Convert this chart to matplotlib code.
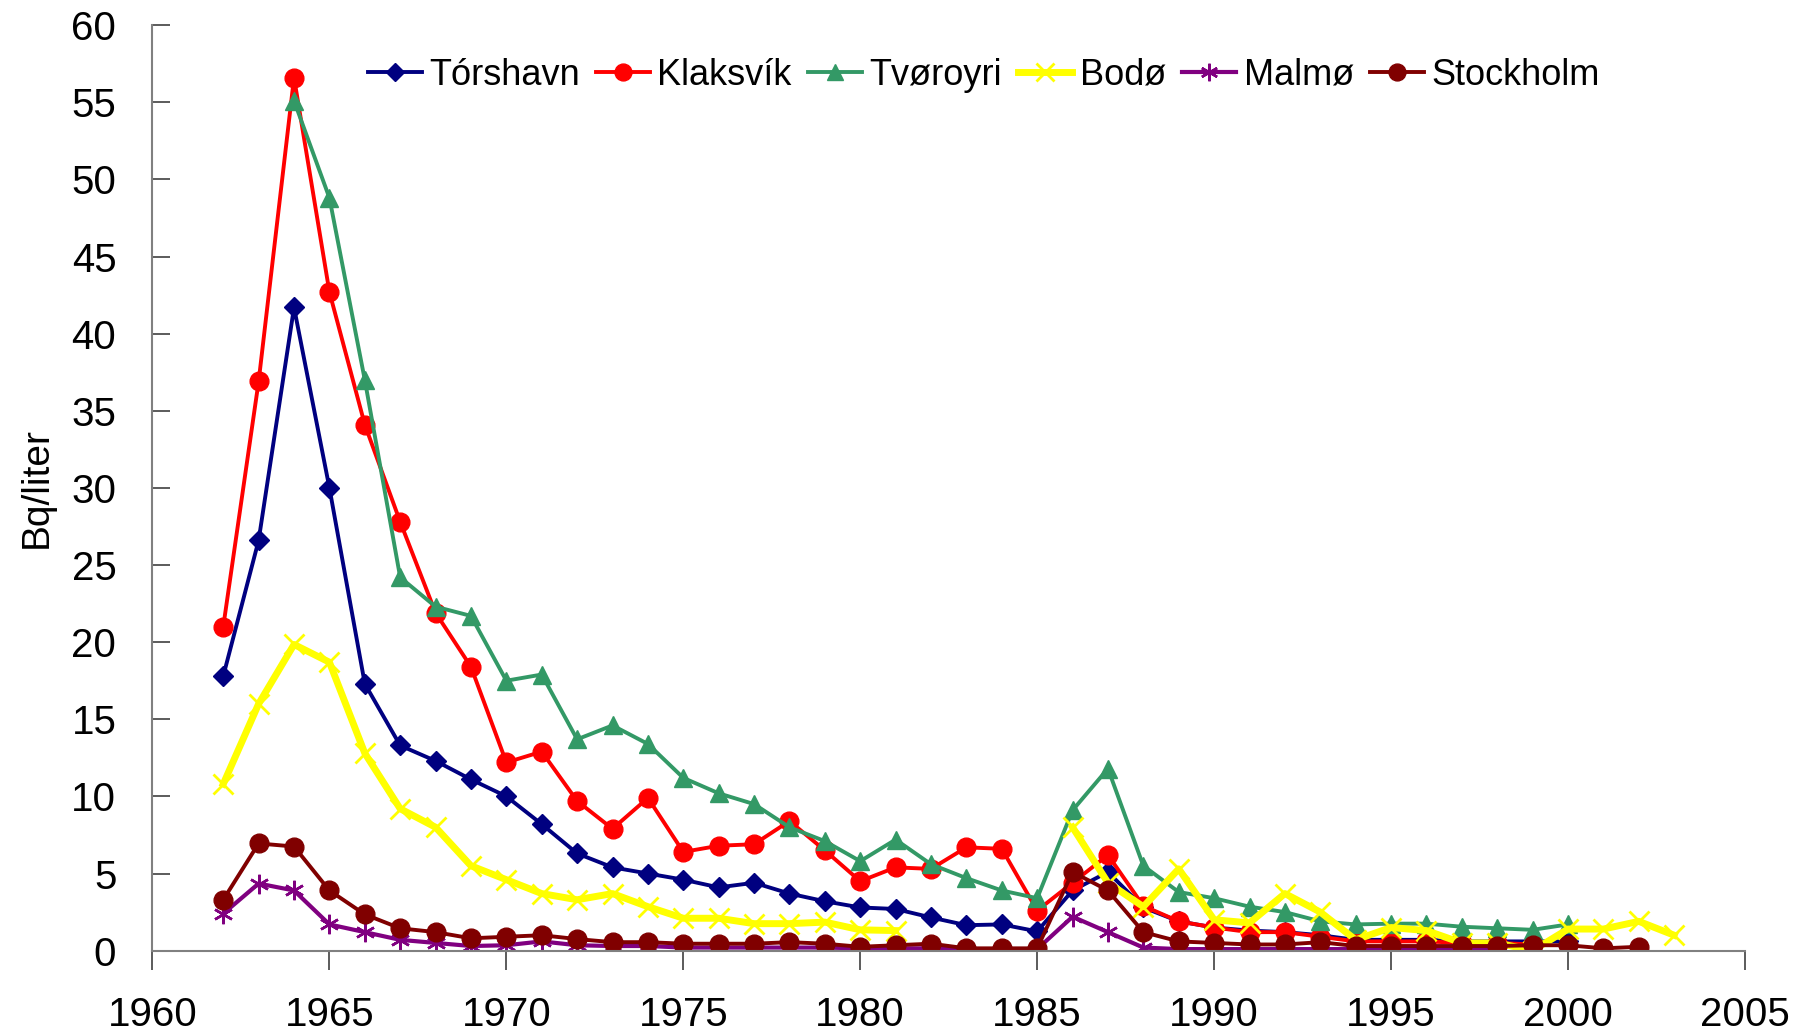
import numpy as np
import matplotlib
matplotlib.use("Agg")
import matplotlib.pyplot as plt

nan = np.nan

torshavn_years = list(range(1962, 2001))
torshavn = [17.8, 26.6, 41.7, 30.0, 17.3, 13.3, 12.3, 11.1, 10.0, 8.2,
            6.3, 5.4, 5.0, 4.6, 4.1, 4.4, 3.7, 3.2, 2.8, 2.7,
            2.15, 1.65, 1.7, 1.25, 3.9, 5.1, 2.8, 1.9, 1.5, 1.3,
            1.2, 1.0, 0.7, 0.7, 0.7, 0.6, 0.6, 0.6, 0.6]

klaksvik_years = list(range(1962, 2000))
klaksvik = [21.0, 36.9, 56.6, 42.7, 34.1, 27.8, 21.9, 18.4, 12.2, 12.9,
            9.7, 7.9, 9.9, 6.4, 6.8, 6.9, 8.4, 6.5, 4.5, 5.4,
            5.3, 6.7, 6.6, 2.6, 4.4, 6.2, 2.9, 1.9, 1.5, 1.2,
            1.2, 0.9, 0.6, 0.6, 0.6, 0.5, 0.5, 0.4]

tvoroyri_years = list(range(1964, 2001))
tvoroyri = [55.1, 48.8, 37.0, 24.2, 22.3, 21.7, 17.5, 17.9, 13.7, 14.6,
            13.4, 11.2, 10.2, 9.5, 8.0, 7.1, 5.8, 7.2, 5.6, 4.7,
            3.9, 3.4, 9.1, 11.8, 5.5, 3.8, 3.4, 2.85, 2.5, 1.9,
            1.7, 1.75, 1.75, 1.55, 1.45, 1.35, 1.7]

bodo_years = list(range(1962, 2004))
bodo = [10.8, 16.0, 19.85, 18.7, 12.8, 9.2, 8.0, 5.5, 4.6, 3.7,
        3.3, 3.7, 2.85, 2.1, 2.1, 1.75, 1.75, 1.85, 1.35, 1.3,
        nan, nan, nan, nan, 8.0, 4.4, 2.85, 5.3, 2.0, 1.8,
        3.7, 2.5, 0.7, 1.5, 1.3, 0.5, 0.5, 0.0, 1.4, 1.4,
        1.9, 1.0]

malmo_years = list(range(1962, 1999))
malmo = [2.4, 4.35, 3.9, 1.7, 1.2, 0.7, 0.5, 0.3, 0.35, 0.6,
         0.35, 0.3, 0.3, 0.2, 0.2, 0.2, 0.2, 0.2, 0.15, 0.15,
         0.15, 0.1, 0.1, 0.1, 2.2, 1.2, 0.2, 0.1, 0.1, 0.1,
         0.1, 0.1, 0.1, 0.1, 0.1, 0.1, 0.1]

stockholm_years = list(range(1962, 2003))
stockholm = [3.3, 6.95, 6.75, 3.9, 2.35, 1.45, 1.2, 0.8, 0.9, 1.0,
             0.75, 0.55, 0.55, 0.45, 0.45, 0.45, 0.55, 0.45, 0.25, 0.35,
             0.45, 0.15, 0.15, 0.15, 5.1, 3.9, 1.2, 0.6, 0.5, 0.4,
             0.4, 0.55, 0.3, 0.3, 0.3, 0.3, 0.3, 0.35, 0.35, 0.15,
             0.25]

plt.rcParams['font.family'] = ['Liberation Sans', 'DejaVu Sans']
narrow = ['Liberation Sans Narrow', 'Liberation Sans', 'DejaVu Sans']

fig = plt.figure(figsize=(17.98, 10.35), dpi=100)
ax = fig.add_axes([0.0848, 0.0815, 0.9705 - 0.0848, 0.9757 - 0.0815])

ax.plot(torshavn_years, torshavn, color='#000080', lw=2.8, marker='D',
        ms=10.5, label='Tórshavn')
ax.plot(klaksvik_years, klaksvik, color='#FF0000', lw=2.8, marker='o',
        ms=13.5, label='Klaksvík')
ax.plot(tvoroyri_years, tvoroyri, color='#339966', lw=2.8, marker='^',
        ms=13.5, label='Tvøroyri')
ax.plot(bodo_years, bodo, color='#FFFF00', lw=5, marker='x', ms=14,
        mew=2, label='Bodø')
ax.plot(malmo_years, malmo, color='#800080', lw=3, marker=(6, 2, 0),
        ms=14, mew=1.8, label='Malmø')
ax.plot(stockholm_years, stockholm, color='#800000', lw=2.8, marker='o',
        ms=13.5, label='Stockholm')

ax.set_xlim(1960, 2005)
ax.set_ylim(0, 60)
ax.set_xticks(range(1960, 2006, 5))
ax.set_yticks(range(0, 61, 5))

for s in ['top', 'right']:
    ax.spines[s].set_visible(False)
for s in ['left', 'bottom']:
    ax.spines[s].set_color('#808080')
    ax.spines[s].set_linewidth(1.5)

ax.tick_params(axis='y', direction='in', length=13, width=1.2,
               color='#404040', labelsize=29, pad=26)
ax.tick_params(axis='x', direction='out', length=14, width=1.2,
               color='#404040', labelsize=29, pad=19)

ax.set_ylabel('Bq/liter', fontsize=28, family=narrow, labelpad=12)

ax.legend(loc='upper center', bbox_to_anchor=(0.522, 1.0), ncol=6,
          frameon=False, prop={'family': narrow, 'size': 26},
          handlelength=1.5, handletextpad=0.2, columnspacing=0.45,
          markerscale=0.9)

fig.savefig('out.png', dpi=100)
